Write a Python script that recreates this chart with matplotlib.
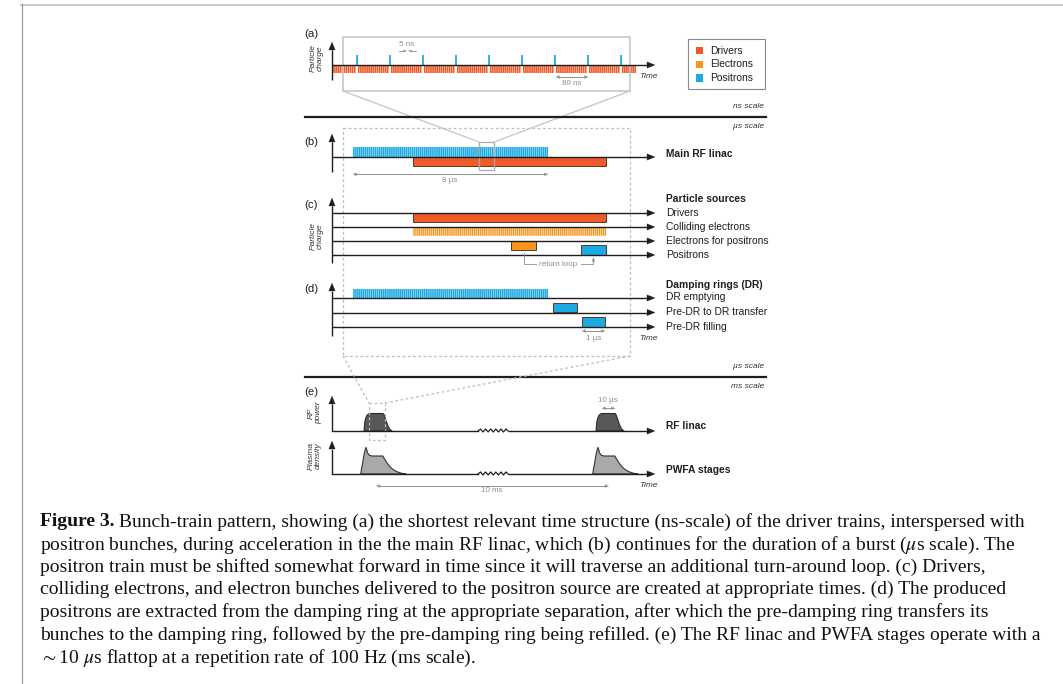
import numpy as np
import matplotlib
matplotlib.use("Agg")
import matplotlib.pyplot as plt
from matplotlib.patches import Rectangle, Polygon

plt.rcParams["font.family"] = ["Liberation Sans", "DejaVu Sans"]
plt.rcParams["mathtext.fontset"] = "stix"

# ---------------------------------------------------------------- data
legend_labels = ["Drivers", "Electrons", "Positrons"]
panel_letters = ["(a)", "(b)", "(c)", "(d)", "(e)"]

# (a) ns-scale structure
a_positron_ns = [60, 140, 220, 300, 380, 460, 540, 620, 700]
a_driver_first_ns, a_driver_last_ns, a_driver_step_ns = 5, 735, 5
a_driver_charge = -0.8
a_positron_charge = 1.0

# (b)-(d) us-scale structure
burst_positrons_us = (0.86, 8.86)
burst_step_us = 0.08
drivers_us = (3.32, 11.23)
colliding_e_us = (3.32, 11.23)
e_for_positrons_us = (7.34, 8.36)
positron_source_us = (10.20, 11.23)
dr_emptying_us = (0.86, 8.86)
pre_dr_transfer_us = (9.06, 10.04)
pre_dr_filling_us = (10.25, 11.19)
c_labels = ["Drivers", "Colliding electrons", "Electrons for positrons", "Positrons"]
d_labels = ["DR emptying", "Pre-DR to DR transfer", "Pre-DR filling"]

# (e) ms-scale structure
pulse_times_ms = [1.64, 11.64]
rf_t_us = [-4.6, -4.1, -3.3, -2.3, -1.2, 0.0, 10.0, 10.8, 11.8, 12.9, 14.0, 15.3, 17.0]
rf_amp = [0.0, 0.85, 1.30, 1.58, 1.71, 1.75, 1.75, 1.62, 1.25, 0.82, 0.45, 0.15, 0.0]
plasma_t_us = [-7.2, -6.0, -4.8, -3.8, -3.1, -2.6, -1.8, -0.6, 1.3, 9.8, 11.2, 12.8,
               14.8, 17.5, 20.5, 24.0, 27.5]
plasma_amp = [0.0, 0.9, 1.8, 2.4, 2.67, 2.45, 2.1, 1.88, 1.8, 1.8, 1.5, 1.15,
              0.8, 0.47, 0.24, 0.08, 0.0]
zigzag_ms = [6.29, 6.40, 6.51, 6.62, 6.73, 6.84, 6.95, 7.06, 7.17, 7.28, 7.39, 7.50, 7.59]
zigzag_amp = [0, 0.2, -0.1, 0.2, -0.1, 0.2, -0.1, 0.2, -0.1, 0.2, -0.1, 0.2, 0]

caption_lines = [
    ("Figure 3.", " Bunch-train pattern, showing (a) the shortest relevant time structure (ns-scale) of the driver trains, interspersed with"),
    ("", r"positron bunches, during acceleration in the the main RF linac, which (b) continues for the duration of a burst ($\mu$s scale). The"),
    ("", "positron train must be shifted somewhat forward in time since it will traverse an additional turn-around loop. (c) Drivers,"),
    ("", "colliding electrons, and electron bunches delivered to the positron source are created at appropriate times. (d) The produced"),
    ("", "positrons are extracted from the damping ring at the appropriate separation, after which the pre-damping ring transfers its"),
    ("", "bunches to the damping ring, followed by the pre-damping ring being refilled. (e) The RF linac and PWFA stages operate with a"),
    ("", r"$\sim$10 $\mu$s flattop at a repetition rate of 100 Hz (ms scale)."),
]

# ---------------------------------------------------------------- style / geometry
W, H = 1063, 684
DRIVER = "#EF5A29"
ELECTRON = "#F7941D"
POSITRON = "#1CAAE5"
EDGE = "#5a3a2c"
INK = "#1e1e1e"
GREY = "#8e8e8e"
BOXGREY = "#c4c4c4"
AX_X0, AX_X1 = 332, 655
PX_PER_NS = 0.4125
PX_PER_US = 24.4
PX_PER_MS = 23.2
PULSE_MS_PER_US = 0.056
PX_PER_UNIT = 10.0

fig = plt.figure(figsize=(W / 100, H / 100), dpi=100)
base = fig.add_axes([0, 0, 1, 1], zorder=5)
base.set_xlim(0, W)
base.set_ylim(H, 0)
base.axis("off")


def panel(ytop, ybot, y0px, px_per_x):
    ax = fig.add_axes([AX_X0 / W, 1 - ybot / H, (AX_X1 - AX_X0) / W, (ybot - ytop) / H], zorder=1)
    ax.set_xlim(0, (AX_X1 - AX_X0) / px_per_x)
    ax.set_ylim(-(ybot - y0px) / PX_PER_UNIT, (y0px - ytop) / PX_PER_UNIT)
    ax.axis("off")
    return ax


def arrow(x0, y0, x1, y1, lw=1.0, color=INK, hl=8.0, hw=3.2):
    dx, dy = x1 - x0, y1 - y0
    L = np.hypot(dx, dy)
    ux, uy = dx / L, dy / L
    bx, by = x1 - ux * hl, y1 - uy * hl
    base.plot([x0, bx + ux * 0.5], [y0, by + uy * 0.5], color=color, lw=lw, solid_capstyle="butt")
    px, py = -uy, ux
    base.add_patch(Polygon([(x1, y1), (bx + px * hw, by + py * hw), (bx - px * hw, by - py * hw)],
                           closed=True, fc=color, ec=color, lw=0.2))


def dim_arrow(x0, x1, y, color=GREY):
    base.plot([x0 + 3, x1 - 3], [y, y], color=color, lw=0.7)
    for xa, s in ((x0, 1), (x1, -1)):
        base.add_patch(Polygon([(xa, y), (xa + s * 3.5, y - 1.5), (xa + s * 3.5, y + 1.5)],
                               closed=True, fc=color, ec=color, lw=0.2))


def train(ax, span, step, bottom, height, color, frac=0.7):
    n = int(round((span[1] - span[0]) / step))
    centers = span[0] + step * (np.arange(n) + 0.5)
    bars = ax.bar(centers, height, width=step * frac, bottom=bottom, color=color, lw=0, align="center")
    for b in bars:
        b.set_snap(False)


def block(ax, span, bottom, height, color):
    ax.add_patch(Rectangle((span[0], bottom), span[1] - span[0], height,
                           fc=color, ec=EDGE, lw=0.7))


SANS = dict(fontfamily=["Liberation Sans", "DejaVu Sans"])
small = dict(fontsize=5.8, color=GREY, ha="center", va="center", **SANS)
ital = dict(fontsize=6.0, color="#333333", style="italic", va="center", **SANS)
lab = dict(fontsize=7.4, color=INK, ha="left", va="center", **SANS)

# ---------------------------------------------------------------- frame
base.plot([21, W], [4.5, 4.5], color="#cdcdcd", lw=1.5)
base.plot([21.5, 21.5], [4, H], color="#9a9a9a", lw=0.9)

# ---------------------------------------------------------------- (a)
ax_a = panel(40, 80, 65, PX_PER_NS)
drv = [t for t in range(a_driver_first_ns, a_driver_last_ns + 1, a_driver_step_ns)
       if t not in a_positron_ns]
bars_a = ax_a.bar(drv, a_driver_charge, width=a_driver_step_ns * 0.8, bottom=0, color=DRIVER, lw=0)
for b in bars_a:
    b.set_snap(False)
ax_a.vlines(a_positron_ns, 0, a_positron_charge, color=POSITRON, lw=1.3)
arrow(AX_X0, 80, AX_X0, 42)
arrow(AX_X0, 65, AX_X1, 65)
base.add_patch(Rectangle((343, 37), 287, 54, fc="none", ec=BOXGREY, lw=1.1))
base.plot([343, 479], [91, 142], color=BOXGREY, lw=0.9)
base.plot([630, 494], [91, 142], color=BOXGREY, lw=0.9)
base.text(407, 44.5, "5 ns", **small)
base.plot([399, 404], [51, 51], color=GREY, lw=0.6)
base.add_patch(Polygon([(406.5, 51), (403.5, 49.8), (403.5, 52.2)], fc=GREY, ec=GREY, lw=0.2))
base.plot([410.5, 415.5], [51, 51], color=GREY, lw=0.6)
base.add_patch(Polygon([(408.5, 51), (411.5, 49.8), (411.5, 52.2)], fc=GREY, ec=GREY, lw=0.2))
dim_arrow(556, 588, 77)
base.text(572, 83.5, "80 ns", **small)
base.text(649, 77, "Time", ha="center", **ital)
base.text(316.5, 58, "Particle\ncharge", rotation=90, ha="center", linespacing=1.0, **ital)

# legend
base.add_patch(Rectangle((688, 38.5), 77, 50.5, fc="white", ec="#8a8a8a", lw=0.8))
for lbl, col, yy in zip(legend_labels, [DRIVER, ELECTRON, POSITRON], [50.7, 64.3, 78.0]):
    base.add_patch(Rectangle((696, yy - 3.7), 7.4, 7.4, fc=col, ec="none"))
    base.text(710.5, yy, lbl, **lab)

# separators
for ysep, top_txt, bot_txt in ((116.5, "ns scale", r"µs scale"), (376.5, r"µs scale", "ms scale")):
    base.plot([305, 766], [ysep, ysep], color=INK, lw=1.6)
    base.text(764, ysep - 10, top_txt, ha="right", **ital)
    base.text(764, ysep + 10, bot_txt, ha="right", **ital)

# dashed zoom box (b)-(d)
dash = dict(color="#bdbdbd", lw=0.9, ls=(0, (2.2, 2.0)))
base.add_patch(Rectangle((343, 128), 287, 228, fc="none", ec="#bdbdbd", lw=0.9, ls=(0, (2.2, 2.0))))
base.plot([343, 369], [356, 403], **dash)
base.plot([630, 385], [356, 403], **dash)
base.add_patch(Rectangle((369, 403), 16, 37, fc="none", ec="#bdbdbd", lw=0.9, ls=(0, (2.2, 2.0))))

# ---------------------------------------------------------------- (b)
ax_b = panel(133, 172, 157, PX_PER_US)
train(ax_b, burst_positrons_us, burst_step_us, 0, 1.0, POSITRON, 0.82)
block(ax_b, drivers_us, -0.9, 0.9, DRIVER)
arrow(AX_X0, 172, AX_X0, 134)
arrow(AX_X0, 157, AX_X1, 157)
base.add_patch(Rectangle((479, 142), 15, 28, fc="none", ec="#aaaaaa", lw=0.9))
dim_arrow(353, 548, 174.3)
base.text(450, 181, "8 µs", **small)
base.text(666, 154, "Main RF linac", fontweight="bold", **lab)

# ---------------------------------------------------------------- (c)
c_track_px = [213, 227, 241, 255]
ax_c = panel(197, 265, 255, PX_PER_US)
ct = [(255 - p) / PX_PER_UNIT for p in c_track_px]
block(ax_c, drivers_us, ct[0] - 0.9, 0.9, DRIVER)
train(ax_c, colliding_e_us, burst_step_us, ct[1] - 0.88, 0.8, ELECTRON, 0.72)
block(ax_c, e_for_positrons_us, ct[2] - 0.9, 0.9, ELECTRON)
block(ax_c, positron_source_us, ct[3], 1.0, POSITRON)
arrow(AX_X0, 263, AX_X0, 198)
for p, name in zip(c_track_px, c_labels):
    arrow(AX_X0, p, AX_X1, p)
    base.text(666, p - 0.5, name, **lab)
base.text(666, 199, "Particle sources", fontweight="bold", **lab)
base.text(316.5, 236, "Particle\ncharge", rotation=90, ha="center", linespacing=1.0, **ital)
# return loop bracket
xl = AX_X0 + 0.5 * sum(e_for_positrons_us) * PX_PER_US
xr = AX_X0 + 0.5 * sum(positron_source_us) * PX_PER_US
base.plot([xl, xl, 536], [253, 264, 264], color=GREY, lw=0.6)
base.plot([581, xr, xr], [264, 264, 261], color=GREY, lw=0.6)
base.add_patch(Polygon([(xr, 257.5), (xr - 1.4, 261.5), (xr + 1.4, 261.5)], fc=GREY, ec=GREY, lw=0.2))
base.text(558.5, 264, "return loop", **small)

# ---------------------------------------------------------------- (d)
d_track_px = [298, 312.5, 327]
ax_d = panel(282, 340, 327, PX_PER_US)
dt = [(327 - p) / PX_PER_UNIT for p in d_track_px]
train(ax_d, dr_emptying_us, burst_step_us, dt[0], 0.9, POSITRON, 0.82)
block(ax_d, pre_dr_transfer_us, dt[1], 0.9, POSITRON)
block(ax_d, pre_dr_filling_us, dt[2], 1.0, POSITRON)
arrow(AX_X0, 336, AX_X0, 283)
for p, name in zip(d_track_px, d_labels):
    arrow(AX_X0, p, AX_X1, p)
    base.text(666, p - 0.5, name, **lab)
base.text(666, 284.5, "Damping rings (DR)", fontweight="bold", **lab)
dim_arrow(AX_X0 + pre_dr_filling_us[0] * PX_PER_US, AX_X0 + pre_dr_filling_us[1] * PX_PER_US, 331)
base.text(593.5, 338, "1 µs", **small)
base.text(648, 338.5, "Time", ha="center", **ital)

# ---------------------------------------------------------------- (e)
ax_rf = panel(395, 436, 431, PX_PER_MS)
ax_pl = panel(440, 478, 474, PX_PER_MS)
for t0 in pulse_times_ms:
    ax_rf.fill(t0 + np.array(rf_t_us) * PULSE_MS_PER_US, rf_amp, fc="#585858", ec="#2a2a2a", lw=0.8)
    ax_pl.fill(t0 + np.array(plasma_t_us) * PULSE_MS_PER_US, plasma_amp, fc="#a9a9a9", ec="#333333", lw=0.8)
zx0 = AX_X0 + zigzag_ms[0] * PX_PER_MS
zx1 = AX_X0 + zigzag_ms[-1] * PX_PER_MS
for ax_e, y0, ytip in ((ax_rf, 431, 396), (ax_pl, 474, 441)):
    ax_e.plot(zigzag_ms, zigzag_amp, color=INK, lw=0.9, clip_on=False)
    arrow(AX_X0, y0, AX_X0, ytip)
    base.plot([AX_X0, zx0], [y0, y0], color=INK, lw=1.0)
    arrow(zx1, y0, AX_X1, y0)
t_flat = pulse_times_ms[1]
dim_arrow(AX_X0 + t_flat * PX_PER_MS, AX_X0 + (t_flat + rf_t_us[6] * PULSE_MS_PER_US) * PX_PER_MS, 408.3)
base.text(608, 401, "10 µs", **small)
c1 = AX_X0 + (pulse_times_ms[0] + 5 * PULSE_MS_PER_US) * PX_PER_MS
c2 = AX_X0 + (pulse_times_ms[1] + 5 * PULSE_MS_PER_US) * PX_PER_MS
dim_arrow(c1, c2, 486)
base.text(492, 491, "10 ms", **small)
base.text(648, 485.5, "Time", ha="center", **ital)
base.text(315, 413, "RF\npower", rotation=90, ha="center", linespacing=1.0, **ital)
base.text(315, 456, "Plasma\ndensity", rotation=90, ha="center", linespacing=1.0, **ital)
base.text(666, 426, "RF linac", fontweight="bold", **lab)
base.text(666, 470, "PWFA stages", fontweight="bold", **lab)

# panel letters
for letter, yy in zip(panel_letters, [34, 142, 205, 289.5, 392]):
    base.text(304, yy, letter, fontsize=8.2, color=INK, ha="left", va="center", **SANS)

# ---------------------------------------------------------------- caption
SERIF = ["Liberation Serif", "DejaVu Serif"]
renderer = fig.canvas.get_renderer()


def width_of(s, **kw):
    t = base.text(0, 0, s, **kw)
    w = t.get_window_extent(renderer).width
    t.remove()
    return w


fs0 = 12.0
w_line1 = (width_of(caption_lines[0][0], fontsize=fs0, fontfamily=SERIF, fontweight="bold")
           + width_of(caption_lines[0][1], fontsize=fs0, fontfamily=SERIF))
fs = fs0 * 977.0 / w_line1
cap_y = [520, 542.5, 565, 587.5, 610, 632.5, 655]
for (bold_part, rest), yy in zip(caption_lines, cap_y):
    x = 40.0
    if bold_part:
        base.text(x, yy, bold_part, fontsize=fs, fontfamily=SERIF, fontweight="bold",
                  color="#111111", ha="left", va="center_baseline")
        x += width_of(bold_part, fontsize=fs, fontfamily=SERIF, fontweight="bold")
    base.text(x, yy, rest, fontsize=fs, fontfamily=SERIF, color="#111111",
              ha="left", va="center_baseline")

fig.savefig("out.png", dpi=100)
